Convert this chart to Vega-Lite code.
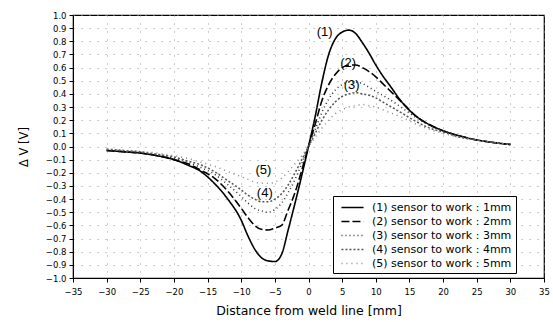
{
  "$schema": "https://vega.github.io/schema/vega-lite/v6.json",
  "autosize": "none",
  "width": 471,
  "height": 263,
  "padding": {"left": 73, "top": 15, "right": 9, "bottom": 44},
  "background": "white",
  "config": {
    "font": "DejaVu Sans",
    "view": {"stroke": "#000", "strokeWidth": 1.2}
  },
  "datasets": {
    "curves": [
      {"x":-30,"v":-0.03,"s":"(1) sensor to work : 1mm"},{"x":-27.5,"v":-0.04,"s":"(1) sensor to work : 1mm"},{"x":-25,"v":-0.05,"s":"(1) sensor to work : 1mm"},{"x":-22.5,"v":-0.07,"s":"(1) sensor to work : 1mm"},{"x":-20,"v":-0.10,"s":"(1) sensor to work : 1mm"},{"x":-18,"v":-0.14,"s":"(1) sensor to work : 1mm"},{"x":-16,"v":-0.19,"s":"(1) sensor to work : 1mm"},{"x":-14,"v":-0.28,"s":"(1) sensor to work : 1mm"},{"x":-12,"v":-0.40,"s":"(1) sensor to work : 1mm"},{"x":-10,"v":-0.56,"s":"(1) sensor to work : 1mm"},{"x":-9,"v":-0.68,"s":"(1) sensor to work : 1mm"},{"x":-8,"v":-0.78,"s":"(1) sensor to work : 1mm"},{"x":-7,"v":-0.845,"s":"(1) sensor to work : 1mm"},{"x":-6,"v":-0.87,"s":"(1) sensor to work : 1mm"},{"x":-5,"v":-0.875,"s":"(1) sensor to work : 1mm"},{"x":-4,"v":-0.82,"s":"(1) sensor to work : 1mm"},{"x":-3,"v":-0.63,"s":"(1) sensor to work : 1mm"},{"x":-2,"v":-0.43,"s":"(1) sensor to work : 1mm"},{"x":-1,"v":-0.22,"s":"(1) sensor to work : 1mm"},{"x":0,"v":0.0,"s":"(1) sensor to work : 1mm"},{"x":1,"v":0.23,"s":"(1) sensor to work : 1mm"},{"x":2,"v":0.49,"s":"(1) sensor to work : 1mm"},{"x":3,"v":0.70,"s":"(1) sensor to work : 1mm"},{"x":4,"v":0.82,"s":"(1) sensor to work : 1mm"},{"x":5,"v":0.87,"s":"(1) sensor to work : 1mm"},{"x":6,"v":0.885,"s":"(1) sensor to work : 1mm"},{"x":7,"v":0.86,"s":"(1) sensor to work : 1mm"},{"x":8,"v":0.79,"s":"(1) sensor to work : 1mm"},{"x":9,"v":0.71,"s":"(1) sensor to work : 1mm"},{"x":10,"v":0.62,"s":"(1) sensor to work : 1mm"},{"x":11,"v":0.54,"s":"(1) sensor to work : 1mm"},{"x":12,"v":0.47,"s":"(1) sensor to work : 1mm"},{"x":14,"v":0.33,"s":"(1) sensor to work : 1mm"},{"x":16,"v":0.23,"s":"(1) sensor to work : 1mm"},{"x":18,"v":0.165,"s":"(1) sensor to work : 1mm"},{"x":20,"v":0.12,"s":"(1) sensor to work : 1mm"},{"x":22.5,"v":0.08,"s":"(1) sensor to work : 1mm"},{"x":25,"v":0.05,"s":"(1) sensor to work : 1mm"},{"x":27.5,"v":0.03,"s":"(1) sensor to work : 1mm"},{"x":30,"v":0.015,"s":"(1) sensor to work : 1mm"},

      {"x":-30,"v":-0.03,"s":"(2) sensor to work : 2mm"},{"x":-27.5,"v":-0.04,"s":"(2) sensor to work : 2mm"},{"x":-25,"v":-0.05,"s":"(2) sensor to work : 2mm"},{"x":-22.5,"v":-0.07,"s":"(2) sensor to work : 2mm"},{"x":-20,"v":-0.10,"s":"(2) sensor to work : 2mm"},{"x":-18,"v":-0.13,"s":"(2) sensor to work : 2mm"},{"x":-16,"v":-0.18,"s":"(2) sensor to work : 2mm"},{"x":-14,"v":-0.24,"s":"(2) sensor to work : 2mm"},{"x":-12,"v":-0.34,"s":"(2) sensor to work : 2mm"},{"x":-10,"v":-0.47,"s":"(2) sensor to work : 2mm"},{"x":-9,"v":-0.54,"s":"(2) sensor to work : 2mm"},{"x":-8,"v":-0.60,"s":"(2) sensor to work : 2mm"},{"x":-7,"v":-0.63,"s":"(2) sensor to work : 2mm"},{"x":-6,"v":-0.635,"s":"(2) sensor to work : 2mm"},{"x":-5,"v":-0.62,"s":"(2) sensor to work : 2mm"},{"x":-4,"v":-0.60,"s":"(2) sensor to work : 2mm"},{"x":-3,"v":-0.48,"s":"(2) sensor to work : 2mm"},{"x":-2,"v":-0.35,"s":"(2) sensor to work : 2mm"},{"x":-1,"v":-0.18,"s":"(2) sensor to work : 2mm"},{"x":0,"v":0.0,"s":"(2) sensor to work : 2mm"},{"x":1,"v":0.17,"s":"(2) sensor to work : 2mm"},{"x":2,"v":0.35,"s":"(2) sensor to work : 2mm"},{"x":3,"v":0.47,"s":"(2) sensor to work : 2mm"},{"x":4,"v":0.55,"s":"(2) sensor to work : 2mm"},{"x":5,"v":0.60,"s":"(2) sensor to work : 2mm"},{"x":6,"v":0.62,"s":"(2) sensor to work : 2mm"},{"x":7,"v":0.62,"s":"(2) sensor to work : 2mm"},{"x":8,"v":0.60,"s":"(2) sensor to work : 2mm"},{"x":9,"v":0.57,"s":"(2) sensor to work : 2mm"},{"x":10,"v":0.53,"s":"(2) sensor to work : 2mm"},{"x":11,"v":0.48,"s":"(2) sensor to work : 2mm"},{"x":12,"v":0.43,"s":"(2) sensor to work : 2mm"},{"x":14,"v":0.33,"s":"(2) sensor to work : 2mm"},{"x":16,"v":0.23,"s":"(2) sensor to work : 2mm"},{"x":18,"v":0.165,"s":"(2) sensor to work : 2mm"},{"x":20,"v":0.12,"s":"(2) sensor to work : 2mm"},{"x":22.5,"v":0.08,"s":"(2) sensor to work : 2mm"},{"x":25,"v":0.05,"s":"(2) sensor to work : 2mm"},{"x":27.5,"v":0.03,"s":"(2) sensor to work : 2mm"},{"x":30,"v":0.015,"s":"(2) sensor to work : 2mm"},

      {"x":-30,"v":-0.03,"s":"(3) sensor to work : 3mm"},{"x":-27.5,"v":-0.04,"s":"(3) sensor to work : 3mm"},{"x":-25,"v":-0.05,"s":"(3) sensor to work : 3mm"},{"x":-22.5,"v":-0.06,"s":"(3) sensor to work : 3mm"},{"x":-20,"v":-0.09,"s":"(3) sensor to work : 3mm"},{"x":-18,"v":-0.12,"s":"(3) sensor to work : 3mm"},{"x":-16,"v":-0.16,"s":"(3) sensor to work : 3mm"},{"x":-14,"v":-0.21,"s":"(3) sensor to work : 3mm"},{"x":-12,"v":-0.29,"s":"(3) sensor to work : 3mm"},{"x":-10,"v":-0.38,"s":"(3) sensor to work : 3mm"},{"x":-9,"v":-0.43,"s":"(3) sensor to work : 3mm"},{"x":-8,"v":-0.47,"s":"(3) sensor to work : 3mm"},{"x":-7,"v":-0.49,"s":"(3) sensor to work : 3mm"},{"x":-6,"v":-0.50,"s":"(3) sensor to work : 3mm"},{"x":-5,"v":-0.48,"s":"(3) sensor to work : 3mm"},{"x":-4,"v":-0.43,"s":"(3) sensor to work : 3mm"},{"x":-3,"v":-0.35,"s":"(3) sensor to work : 3mm"},{"x":-2,"v":-0.25,"s":"(3) sensor to work : 3mm"},{"x":-1,"v":-0.13,"s":"(3) sensor to work : 3mm"},{"x":0,"v":0.0,"s":"(3) sensor to work : 3mm"},{"x":1,"v":0.13,"s":"(3) sensor to work : 3mm"},{"x":2,"v":0.26,"s":"(3) sensor to work : 3mm"},{"x":3,"v":0.36,"s":"(3) sensor to work : 3mm"},{"x":4,"v":0.43,"s":"(3) sensor to work : 3mm"},{"x":5,"v":0.47,"s":"(3) sensor to work : 3mm"},{"x":6,"v":0.49,"s":"(3) sensor to work : 3mm"},{"x":7,"v":0.49,"s":"(3) sensor to work : 3mm"},{"x":8,"v":0.48,"s":"(3) sensor to work : 3mm"},{"x":9,"v":0.45,"s":"(3) sensor to work : 3mm"},{"x":10,"v":0.42,"s":"(3) sensor to work : 3mm"},{"x":11,"v":0.39,"s":"(3) sensor to work : 3mm"},{"x":12,"v":0.36,"s":"(3) sensor to work : 3mm"},{"x":14,"v":0.29,"s":"(3) sensor to work : 3mm"},{"x":16,"v":0.22,"s":"(3) sensor to work : 3mm"},{"x":18,"v":0.16,"s":"(3) sensor to work : 3mm"},{"x":20,"v":0.12,"s":"(3) sensor to work : 3mm"},{"x":22.5,"v":0.08,"s":"(3) sensor to work : 3mm"},{"x":25,"v":0.05,"s":"(3) sensor to work : 3mm"},{"x":27.5,"v":0.03,"s":"(3) sensor to work : 3mm"},{"x":30,"v":0.015,"s":"(3) sensor to work : 3mm"},

      {"x":-30,"v":-0.02,"s":"(4) sensor to work : 4mm"},{"x":-27.5,"v":-0.03,"s":"(4) sensor to work : 4mm"},{"x":-25,"v":-0.04,"s":"(4) sensor to work : 4mm"},{"x":-22.5,"v":-0.06,"s":"(4) sensor to work : 4mm"},{"x":-20,"v":-0.08,"s":"(4) sensor to work : 4mm"},{"x":-18,"v":-0.11,"s":"(4) sensor to work : 4mm"},{"x":-16,"v":-0.14,"s":"(4) sensor to work : 4mm"},{"x":-14,"v":-0.19,"s":"(4) sensor to work : 4mm"},{"x":-12,"v":-0.26,"s":"(4) sensor to work : 4mm"},{"x":-10,"v":-0.33,"s":"(4) sensor to work : 4mm"},{"x":-9,"v":-0.37,"s":"(4) sensor to work : 4mm"},{"x":-8,"v":-0.40,"s":"(4) sensor to work : 4mm"},{"x":-7,"v":-0.42,"s":"(4) sensor to work : 4mm"},{"x":-6,"v":-0.42,"s":"(4) sensor to work : 4mm"},{"x":-5,"v":-0.40,"s":"(4) sensor to work : 4mm"},{"x":-4,"v":-0.36,"s":"(4) sensor to work : 4mm"},{"x":-3,"v":-0.29,"s":"(4) sensor to work : 4mm"},{"x":-2,"v":-0.20,"s":"(4) sensor to work : 4mm"},{"x":-1,"v":-0.10,"s":"(4) sensor to work : 4mm"},{"x":0,"v":0.0,"s":"(4) sensor to work : 4mm"},{"x":1,"v":0.10,"s":"(4) sensor to work : 4mm"},{"x":2,"v":0.20,"s":"(4) sensor to work : 4mm"},{"x":3,"v":0.28,"s":"(4) sensor to work : 4mm"},{"x":4,"v":0.34,"s":"(4) sensor to work : 4mm"},{"x":5,"v":0.38,"s":"(4) sensor to work : 4mm"},{"x":6,"v":0.40,"s":"(4) sensor to work : 4mm"},{"x":7,"v":0.41,"s":"(4) sensor to work : 4mm"},{"x":8,"v":0.40,"s":"(4) sensor to work : 4mm"},{"x":9,"v":0.39,"s":"(4) sensor to work : 4mm"},{"x":10,"v":0.37,"s":"(4) sensor to work : 4mm"},{"x":11,"v":0.34,"s":"(4) sensor to work : 4mm"},{"x":12,"v":0.31,"s":"(4) sensor to work : 4mm"},{"x":14,"v":0.25,"s":"(4) sensor to work : 4mm"},{"x":16,"v":0.19,"s":"(4) sensor to work : 4mm"},{"x":18,"v":0.14,"s":"(4) sensor to work : 4mm"},{"x":20,"v":0.11,"s":"(4) sensor to work : 4mm"},{"x":22.5,"v":0.07,"s":"(4) sensor to work : 4mm"},{"x":25,"v":0.05,"s":"(4) sensor to work : 4mm"},{"x":27.5,"v":0.03,"s":"(4) sensor to work : 4mm"},{"x":30,"v":0.015,"s":"(4) sensor to work : 4mm"},

      {"x":-30,"v":-0.02,"s":"(5) sensor to work : 5mm"},{"x":-27.5,"v":-0.03,"s":"(5) sensor to work : 5mm"},{"x":-25,"v":-0.04,"s":"(5) sensor to work : 5mm"},{"x":-22.5,"v":-0.05,"s":"(5) sensor to work : 5mm"},{"x":-20,"v":-0.07,"s":"(5) sensor to work : 5mm"},{"x":-18,"v":-0.09,"s":"(5) sensor to work : 5mm"},{"x":-16,"v":-0.12,"s":"(5) sensor to work : 5mm"},{"x":-14,"v":-0.15,"s":"(5) sensor to work : 5mm"},{"x":-12,"v":-0.19,"s":"(5) sensor to work : 5mm"},{"x":-10,"v":-0.23,"s":"(5) sensor to work : 5mm"},{"x":-9,"v":-0.25,"s":"(5) sensor to work : 5mm"},{"x":-8,"v":-0.27,"s":"(5) sensor to work : 5mm"},{"x":-7,"v":-0.28,"s":"(5) sensor to work : 5mm"},{"x":-6,"v":-0.28,"s":"(5) sensor to work : 5mm"},{"x":-5,"v":-0.27,"s":"(5) sensor to work : 5mm"},{"x":-4,"v":-0.24,"s":"(5) sensor to work : 5mm"},{"x":-3,"v":-0.19,"s":"(5) sensor to work : 5mm"},{"x":-2,"v":-0.13,"s":"(5) sensor to work : 5mm"},{"x":-1,"v":-0.07,"s":"(5) sensor to work : 5mm"},{"x":0,"v":0.0,"s":"(5) sensor to work : 5mm"},{"x":1,"v":0.07,"s":"(5) sensor to work : 5mm"},{"x":2,"v":0.14,"s":"(5) sensor to work : 5mm"},{"x":3,"v":0.20,"s":"(5) sensor to work : 5mm"},{"x":4,"v":0.25,"s":"(5) sensor to work : 5mm"},{"x":5,"v":0.28,"s":"(5) sensor to work : 5mm"},{"x":6,"v":0.30,"s":"(5) sensor to work : 5mm"},{"x":7,"v":0.31,"s":"(5) sensor to work : 5mm"},{"x":8,"v":0.32,"s":"(5) sensor to work : 5mm"},{"x":9,"v":0.31,"s":"(5) sensor to work : 5mm"},{"x":10,"v":0.30,"s":"(5) sensor to work : 5mm"},{"x":11,"v":0.28,"s":"(5) sensor to work : 5mm"},{"x":12,"v":0.26,"s":"(5) sensor to work : 5mm"},{"x":14,"v":0.22,"s":"(5) sensor to work : 5mm"},{"x":16,"v":0.17,"s":"(5) sensor to work : 5mm"},{"x":18,"v":0.13,"s":"(5) sensor to work : 5mm"},{"x":20,"v":0.10,"s":"(5) sensor to work : 5mm"},{"x":22.5,"v":0.07,"s":"(5) sensor to work : 5mm"},{"x":25,"v":0.05,"s":"(5) sensor to work : 5mm"},{"x":27.5,"v":0.03,"s":"(5) sensor to work : 5mm"},{"x":30,"v":0.015,"s":"(5) sensor to work : 5mm"}
    ],
    "labels": [
      {"x": 2.4, "v": 0.873, "t": "(1)"},
      {"x": 5.9, "v": 0.633, "t": "(2)"},
      {"x": 6.4, "v": 0.468, "t": "(3)"},
      {"x": -6.5, "v": -0.356, "t": "(4)"},
      {"x": -6.7, "v": -0.18, "t": "(5)"}
    ]
  },
  "encoding": {
    "x": {
      "field": "x", "type": "quantitative",
      "scale": {"domain": [-35, 35], "nice": false, "zero": false},
      "axis": {
        "values": [-35,-30,-25,-20,-15,-10,-5,0,5,10,15,20,25,30,35],
        "title": "Distance from weld line [mm]", "titlePadding": 9, "labelPadding": 5,
        "labelOverlap": false, "labelFlush": false, "labelBound": false,
        "grid": true, "gridColor": "#999", "gridDash": [1, 7], "gridWidth": 1, "gridOpacity": 1,
        "domainColor": "#000", "tickColor": "#000", "labelColor": "#000", "titleColor": "#000",
        "labelFont": "DejaVu Sans", "titleFont": "DejaVu Sans", "labelFontSize": 8.5,
        "titleFontSize": 12.5, "titleFontWeight": "normal", "tickSize": 4
      }
    },
    "y": {
      "field": "v", "type": "quantitative",
      "scale": {"domain": [-1, 1], "nice": false, "zero": false},
      "axis": {
        "values": [-1,-0.9,-0.8,-0.7,-0.6,-0.5,-0.4,-0.3,-0.2,-0.1,0,0.1,0.2,0.3,0.4,0.5,0.6,0.7,0.8,0.9,1],
        "format": ".1f", "title": "Δ V [V]", "titlePadding": 16, "labelPadding": 3,
        "labelOverlap": false, "labelFlush": false, "labelBound": false,
        "grid": true, "gridColor": "#999", "gridDash": [1, 7], "gridWidth": 1, "gridOpacity": 1,
        "domainColor": "#000", "tickColor": "#000", "labelColor": "#000", "titleColor": "#000",
        "labelFont": "DejaVu Sans", "titleFont": "DejaVu Sans", "labelFontSize": 8.5,
        "titleFontSize": 11.5, "titleFontWeight": "normal", "tickSize": 4
      }
    }
  },
  "layer": [
    {
      "data": {"name": "curves"},
      "mark": {"type": "line", "interpolate": "monotone"},
      "encoding": {
        "color": {
          "field": "s", "type": "nominal",
          "scale": {"range": ["#000000", "#000000", "#333333", "#555555", "#888888"]},
          "legend": {
            "title": null, "orient": "none", "legendX": 260, "legendY": 181,
            "strokeColor": "#000", "fillColor": "white", "padding": 4,
            "symbolType": "M-1.7,0H1.7", "symbolSize": 169, "symbolStrokeWidth": 1.3,
            "symbolOffset": 8, "labelOffset": 12,
            "labelFontSize": 11, "labelFont": "DejaVu Sans", "labelColor": "#000",
            "rowPadding": 1, "cornerRadius": 0
          }
        },
        "strokeDash": {
          "field": "s", "type": "nominal",
          "scale": {"range": [[1, 0], [8, 3], [1, 3], [2, 2], [1, 4]]},
          "legend": {"title": null}
        },
        "strokeWidth": {
          "field": "s", "type": "nominal",
          "scale": {"range": [1.6, 1.5, 1.2, 1.2, 1.0]},
          "legend": null
        }
      }
    },
    {
      "data": {"name": "labels"},
      "mark": {"type": "text", "font": "Liberation Sans", "fontSize": 13, "color": "#000"},
      "encoding": {
        "text": {"field": "t"}
      }
    }
  ]
}
